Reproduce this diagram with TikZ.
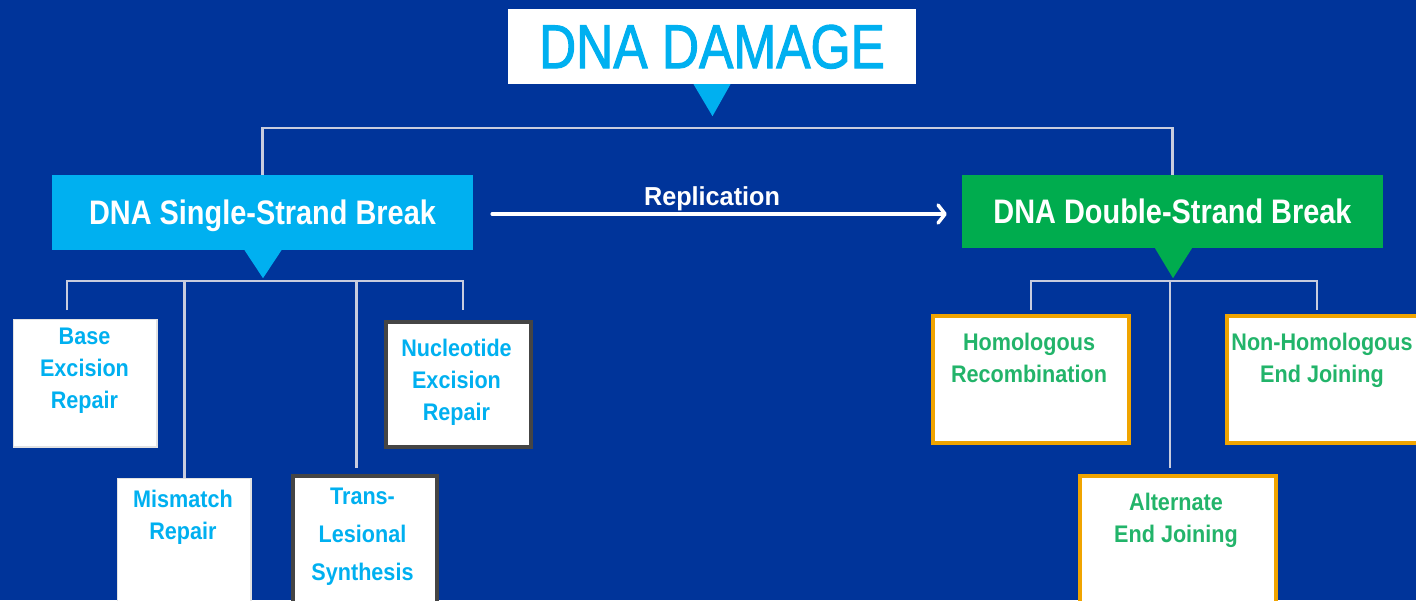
\documentclass[tikz,border=0pt]{standalone}
\usepackage{fontspec}
\setmainfont{Liberation Sans}
\newfontfamily\titlefont[FakeStretch=0.83,FakeBold=1.6]{Liberation Sans}
\newfontfamily\hdrfont[FakeStretch=0.85]{Liberation Sans}
\newfontfamily\smallfont[FakeStretch=0.9]{Liberation Sans}
\newfontfamily\repfont[FakeStretch=0.97]{Liberation Sans}
\usetikzlibrary{arrows.meta,calc}
\definecolor{bgblue}{HTML}{00349A}
\definecolor{cyanc}{HTML}{00B0F0}
\definecolor{greenc}{HTML}{00AC4E}
\definecolor{greentxt}{HTML}{22B46A}
\definecolor{linec}{HTML}{C8CCDE}
\definecolor{darkbord}{HTML}{454545}
\definecolor{orangec}{HTML}{F0A400}
\definecolor{lightbord}{HTML}{E2E2E2}
\tikzset{
  conn/.style={draw=linec, line width=2.5pt},
  titlebox/.style={fill=white, text=cyanc, inner sep=0pt, text depth=0pt,
    font=\titlefont\fontsize{62}{62}\selectfont},
  hdr/.style={inner sep=0pt, text=white, text depth=0pt,
    font=\hdrfont\bfseries\fontsize{34}{34}\selectfont},
  plainbox/.style={fill=white, draw=lightbord, line width=1.5pt, anchor=north west, inner sep=0pt,
    xshift=0.75pt, yshift=-0.75pt},
  darkbox/.style={fill=white, draw=darkbord, line width=4pt, anchor=north west, inner sep=0pt,
    xshift=2pt, yshift=-2pt},
  orangebox/.style={fill=white, draw=orangec, line width=4pt, anchor=north west, inner sep=0pt,
    xshift=2pt, yshift=-2pt},
  boxtext/.style={anchor=north, inner sep=0pt, align=center,
    font=\smallfont\bfseries\fontsize{24}{32}\selectfont},
}
\begin{document}
\begin{tikzpicture}[x=1pt,y=-1pt]
\fill[bgblue] (0,0) rectangle (1416,600);
\useasboundingbox (0,0) rectangle (1416,600);
\clip (0,0) rectangle (1416,600);

% title
\node[titlebox, minimum width=408pt, minimum height=75pt] (t) at (712,46.5) {DNA DAMAGE};

% headers
\node[hdr, fill=cyanc, minimum width=421pt, minimum height=75pt] (ssb) at (262.5,212.5) {DNA Single-Strand Break};
\node[hdr, fill=greenc, minimum width=421pt, minimum height=73pt] (dsb) at (1172.5,211.5) {DNA Double-Strand Break};

% top bus
\coordinate (tbus) at (712,128);
\draw[conn] (ssb.north) -- (ssb.north |- tbus) -- (dsb.north |- tbus) -- (dsb.north);
\fill[cyanc] ($(t.south)+(-18.5,0)$) -- ($(t.south)+(18.5,0)$) -- ($(t.south)+(0.5,32)$) -- cycle;

% replication arrow
\draw[white, line width=3.5pt, line cap=round,
  -{Straight Barb[length=7pt,width=18pt,line cap=round,line join=round]},
  shorten <=19pt, shorten >=15pt] ([yshift=-1.5pt]ssb.east) -- ([yshift=-1.5pt]ssb.east -| dsb.west);
\node[anchor=base, text=white, inner sep=0pt, font=\repfont\bfseries\fontsize{26}{26}\selectfont] (rep) at (712,205) {Replication};

% left boxes
\node[plainbox, minimum width=143.5pt, minimum height=127.5pt] (base) at (12,318) {};
\node[plainbox, minimum width=133.5pt, minimum height=135pt] (mm) at (116,477) {};
\node[darkbox, minimum width=144pt, minimum height=135pt] (trans) at (289,472) {};
\node[darkbox, minimum width=145pt, minimum height=125pt] (nuc) at (382,318) {};

\node[boxtext, text=cyanc] (baset) at (84.5,328) {Base\\Excision\\Repair};
\node[boxtext, text=cyanc] (mmt) at (183,490) {Mismatch\\Repair};
\node[boxtext, text=cyanc, font=\smallfont\bfseries\fontsize{24}{38}\selectfont] (transt) at (362.5,488) {Trans-\\Lesional\\Synthesis};
\node[boxtext, text=cyanc] (nuct) at (456.5,339) {Nucleotide\\Excision\\Repair};

% left bus
\coordinate (sbus) at (263,281);
\coordinate (base-in) at ($(base.north west)+(54.25,-0.75)$);
\coordinate (trans-in) at ($(trans.north west)+(65.5,-2)$);
\coordinate (nuc-in) at ($(nuc.north west)+(79,-2)$);
\draw[conn, shorten <=8pt, shorten >=8pt] (base-in) -- (base-in |- sbus) -- (nuc-in |- sbus) -- (nuc-in);
\draw[conn] (mm.north |- sbus) -- (mm.north);
\draw[conn, shorten >=4pt] (trans-in |- sbus) -- (trans-in);
\fill[cyanc] ($(ssb.south)+(-18,0)$) -- ($(ssb.south)+(19,0)$) -- ($(ssb.south)+(0.5,28)$) -- cycle;

% right boxes
\node[orangebox, minimum width=196pt, minimum height=127pt] (hom) at (929,312) {};
\node[orangebox, minimum width=196pt, minimum height=127pt] (nh) at (1223,312) {};
\node[orangebox, minimum width=196pt, minimum height=135pt] (alt) at (1076,472) {};

\node[boxtext, text=greentxt] (homt) at (1029,333) {Homologous\\Recombination};
\node[boxtext, text=greentxt] (nht) at (1322,333) {Non-Homologous\\End Joining};
\node[boxtext, text=greentxt] (altt) at (1176,493) {Alternate\\End Joining};

% right bus
\coordinate (dbus) at (1173,281);
\coordinate (nh-in) at ($(nh.north west)+(92,-2)$);
\coordinate (alt-in) at ($(alt.north west)+(92,-2)$);
\draw[conn, shorten <=4pt, shorten >=2pt] (hom.north) -- (hom.north |- dbus) -- (nh-in |- dbus) -- (nh-in);
\draw[conn, shorten >=4pt] (alt-in |- dbus) -- (alt-in);
\fill[greenc] ($(dsb.south)+(-17.5,0)$) -- ($(dsb.south)+(19.5,0)$) -- ($(dsb.south)+(0.5,30)$) -- cycle;
\end{tikzpicture}
\end{document}
